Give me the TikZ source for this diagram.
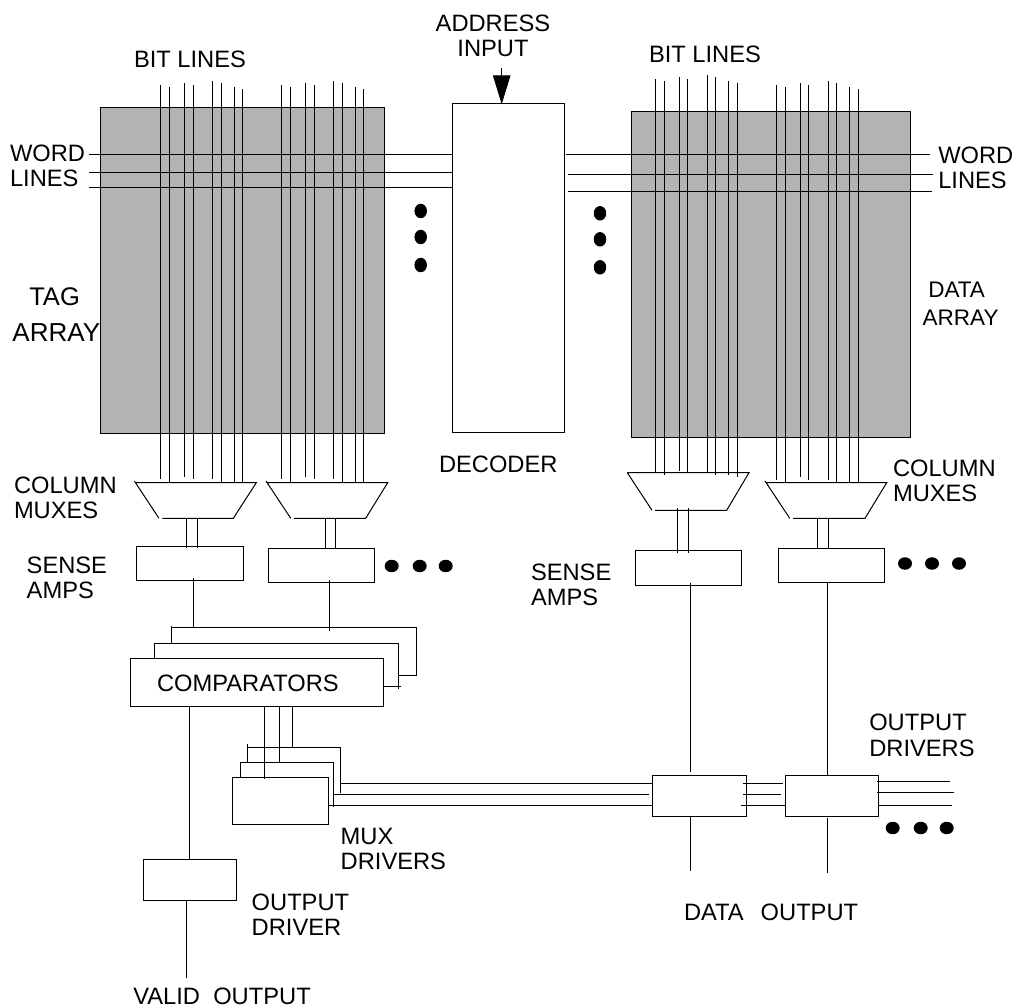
\documentclass[tikz,border=0pt]{standalone}
\usepackage{fontspec}
\setmainfont{Liberation Sans}
\usetikzlibrary{arrows.meta,calc,shapes.geometric}
\definecolor{arraygray}{RGB}{179,179,179}
\tikzset{
  wire/.style={line width=1pt,line cap=butt},
  boxn/.style={draw,line width=1pt,fill=white,inner sep=0pt,outer sep=0pt},
  arrayn/.style={boxn,fill=arraygray},
  lbl/.style={inner sep=0pt,outer sep=0pt,anchor=west,align=left,font=\fontsize{23.7}{25.3}\selectfont},
  hdot/.style={fill=black,draw=none,ellipse,minimum width=14pt,minimum height=12.5pt,inner sep=0pt},
  vdot/.style={fill=black,draw=none,ellipse,minimum width=12.5pt,minimum height=14.5pt,inner sep=0pt},
}
% name, x1,y1,x2,y2, style
\newcommand{\bx}[6]{%
  \pgfmathsetmacro{\bw}{#4-#2}\pgfmathsetmacro{\bh}{#5-#3}%
  \pgfmathsetmacro{\bcx}{(#2+#4)/2}\pgfmathsetmacro{\bcy}{(#3+#5)/2}%
  \node[#6,minimum width=\bw pt,minimum height=\bh pt] (#1) at (\bcx,\bcy) {};}
\newcommand{\bitgroup}[1]{%
  \foreach \xx/\tp/\bt in {#1}{
    \coordinate (bt) at (\xx,\tp);
    \coordinate (bb) at (\xx,\bt);
    \draw[wire] (bt) -- (bb);
  }}
\begin{document}
\begin{tikzpicture}[x=1pt,y=-1pt]
\useasboundingbox (0,0) rectangle (1015,1008);
% arrays and decoder
\bx{tag}{100}{107.5}{384}{433.7}{arrayn}
\bx{dta}{631.7}{111.7}{910}{437.7}{arrayn}
\bx{dec}{452}{103.3}{564.7}{432}{boxn}
% word lines
\coordinate (wl1) at (89,155);\coordinate (wl2) at (89,172.3);\coordinate (wl3) at (88.7,187.7);
\foreach \w in {wl1,wl2,wl3}{\draw[wire] (\w) -- (dec.west |- \w);}
\coordinate (wr1) at (930,155);\coordinate (wr2) at (932.7,174.3);\coordinate (wr3) at (932,191.7);
\draw[wire] (wr1) -- (566,155);
\draw[wire] (wr2) -- (568.3,174.3);
\draw[wire] (wr3) -- (568.3,191.7);
% bit lines
\bitgroup{160.7/85.3/479.3,169.3/87.3/481.7,184.7/83.3/477.3,193/85.3/479.3,212.7/81.3/479.3,221/83.3/481.7,234/87.3/481.7,242.7/89.3/482.7}
\bitgroup{281.7/85.3/479.3,290.2/87.3/481.7,305.3/83.3/477.3,314/85.3/479.3,333.3/81.3/479.3,342/83.3/481.7,355/87.3/481.7,363.7/89.3/482.7}
\bitgroup{655.2/79.3/472.7,664/81.3/475,679/77.3/471,687.8/79.3/472.7,707.2/75/472.7,715.8/77.3/475,728.8/81.3/475,737.3/83.3/477.3}
\bitgroup{776.3/85.3/479.7,785/87.3/482,800/83.3/477.3,808.7/85.3/479.7,828.2/81.3/479.7,836.8/83.3/482,849.7/87.3/482,858.3/89.3/483}
% address arrow
\coordinate (addr) at (501.7,68.3);
\draw[wire,-{Triangle[length=29pt,width=17.5pt,sep=0pt]}] (addr) -- (501.7,104.3);
% column muxes
\draw[wire] (134.3,481) -- (159,518.3) (162.3,518.3) -- (233.3,518.3) -- (256.3,482.7) -- (136,482.7);
\draw[wire] (266,481) -- (290.7,518.3) (294,518.3) -- (365.7,518.3) -- (387.7,482.7) -- (267.5,482.7);
\draw[wire] (627.3,472.7) -- (652,510.3) (655,510.3) -- (726.7,510.3) -- (749,472.7) -- (627.3,472.7);
\draw[wire] (765,481) -- (789.7,518.3) (793,518.3) -- (865,518.3) -- (886.7,482.7) -- (766.5,482.7);
% sense amps
\bx{sa1}{136.7}{546}{243}{580.7}{boxn}
\bx{sa2}{268.3}{548}{374.7}{582.7}{boxn}
\bx{sa3}{635.7}{550.3}{741.7}{585}{boxn}
\bx{sa4}{778.3}{548}{884.7}{582.7}{boxn}
% mux to sense
\foreach \x in {186.7,197.3}{\draw[wire] (\x,518.3) -- (\x,548);}
\foreach \x in {325,335.7}{\draw[wire] (\x,518.3) -- (\x,548);}
\foreach \x in {677,688}{\draw[wire] (\x,508) -- (\x,553);}
\foreach \x in {817.3,828.3}{\draw[wire] (\x,518.3) -- (\x,548);}
% comparators
\draw[wire] (171.3,625.7) -- (171.3,643.3);
\draw[wire] (171.3,627.7) -- (416,627.7) -- (416,675.7) -- (398.3,675.7);
\draw[wire] (154.3,658.7) -- (154.3,643.3) -- (398.3,643.3) -- (398.3,688.7);
\draw[wire] (383.3,686.7) -- (400.7,686.7);
\bx{cmp}{130.3}{658.7}{383.3}{706}{boxn}
\draw[wire] (193,578) -- (193,627.7);
\draw[wire] (329,580) -- (329,630.7);
% mux drivers
\draw[wire] (247.7,744) -- (247.7,762);
\draw[wire] (247.7,747) -- (340,747) -- (340,792.7);
\draw[wire] (240.7,777) -- (240.7,762) -- (333.7,762) -- (333.7,807.3);
\bx{mxd}{232}{777}{328}{824.7}{boxn}
\foreach \x/\y in {264.3/779.3,279.7/762,292.7/747}{\draw[wire] (\x,706) -- (\x,\y);}
% output boxes
\bx{od1}{652.7}{775}{746}{816}{boxn}
\bx{od2}{785}{775}{878.3}{816}{boxn}
\bx{vd}{143.3}{859}{236.7}{900}{boxn}
% valid path
\coordinate (valid) at (186.7,978.3);
\draw[wire] (189,706) -- (189,859);
\draw[wire] (186.7,900) -- (valid);
% bus
\draw[wire] (340,783.3) -- (651.7,783.3);
\draw[wire] (333.7,794.2) -- (649.3,794.2);
\draw[wire] (328,805) -- (652,805);
\draw[wire] (743.3,783.3) -- (783.3,783.3);
\draw[wire] (743.3,794.2) -- (781,794.2);
\draw[wire] (741,805) -- (785,805);
\coordinate (o1) at (950,781.3);\coordinate (o2) at (954,792.3);\coordinate (o3) at (952,805);
\draw[wire] (877,781.3) -- (o1);
\draw[wire] (877,792.3) -- (o2);
\draw[wire] (878.3,805) -- (o3);
% data output verticals
\coordinate (d1) at (690,870.7);\coordinate (d2) at (827.7,872.7);
\draw[wire] (690,582.7) -- (690,771.7);
\draw[wire] (690,816) -- (d1);
\draw[wire] (827.7,582.7) -- (827.7,775);
\draw[wire] (827.7,818) -- (d2);
% dots
\foreach \n/\x/\y in {a/420.7/211,b/420.7/237,c/420.7/265,d/600/213.3,e/600/239.3,f/600/267.3}{
  \node[vdot] (dot\n) at (\x,\y) {};}
\foreach \n/\x/\y in {g/391.7/566,h/419.7/566,i/445.7/566,j/905/563.5,k/932/563.5,l/959/563.5,m/892.7/828,n/920.7/828,o/946.7/828}{
  \node[hdot] (dot\n) at (\x,\y) {};}
% labels
\node[lbl] (t1) at (134,59) {BIT LINES};
\node[lbl,align=center,anchor=center] (t2) at (493,35.5) {ADDRESS\\INPUT};
\node[lbl] (t3) at (649,54) {BIT LINES};
\node[lbl] (t4) at (10,166) {WORD\\LINES};
\node[lbl] (t5) at (938.3,167.5) {WORD\\LINES};
\node[lbl,font=\fontsize{25.5}{37}\selectfont] (t6) at (29.3,296.5) {TAG};
\node[lbl,font=\fontsize{26}{37}\selectfont] (t7) at (12.5,333) {ARRAY};
\node[lbl,font=\fontsize{22.5}{30}\selectfont] (t8) at (928.3,289.3) {DATA};
\node[lbl,font=\fontsize{22.5}{30}\selectfont] (t9) at (922.7,318) {ARRAY};
\node[lbl] (t10) at (439,464) {DECODER};
\node[lbl] (t11) at (14,497.5) {COLUMN\\MUXES};
\node[lbl] (t12) at (26.7,577.5) {SENSE\\AMPS};
\node[lbl] (t13) at (531,584.5) {SENSE\\AMPS};
\node[lbl] (t14) at (893,480.5) {COLUMN\\MUXES};
\node[lbl] (t15) at (157,683) {COMPARATORS};
\node[lbl] (t16) at (869.3,735.3) {OUTPUT\\DRIVERS};
\node[lbl] (t17) at (340.7,849) {MUX\\DRIVERS};
\node[lbl] (t19) at (251.7,914.7) {OUTPUT\\DRIVER};
\node[lbl] (t20) at (684,912) {DATA};
\node[lbl] (t21) at (760.7,912) {OUTPUT};
\node[lbl] (t22) at (133.3,996) {VALID};
\node[lbl] (t23) at (213.3,996) {OUTPUT};
\end{tikzpicture}
\end{document}
